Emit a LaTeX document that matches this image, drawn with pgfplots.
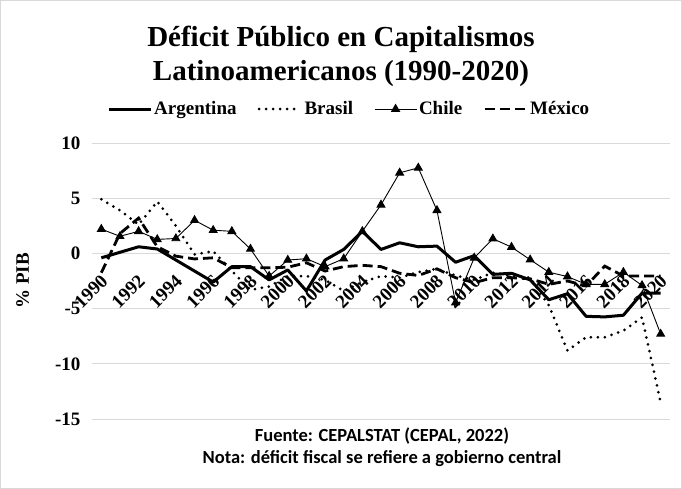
\documentclass[border=0pt]{standalone}
\usepackage{fontspec}
\setmainfont{Liberation Serif}
\newfontfamily\carlito{Carlito}
\usepackage{pgfplots}
\pgfplotsset{compat=1.18}
\usepackage{pgfplotstable}
\pgfplotstableread{
year arg bra chi mex
1990 -0.4 4.9 2.2 -1.75
1991 0.1 3.9 1.55 1.8
1992 0.6 2.6 2.0 3.2
1993 0.4 4.7 1.27 0.6
1994 -0.6 2.5 1.35 -0.25
1995 -1.6 -0.1 3.0 -0.5
1996 -2.6 0.2 2.1 -0.4
1997 -1.2 -1.6 2.0 -1.3
1998 -1.2 -3.3 0.4 -1.3
1999 -2.4 -3.0 -2.05 -1.3
2000 -1.5 -2.05 -0.6 -1.25
2001 -3.4 -2.05 -0.48 -0.85
2002 -0.6 -2.4 -1.2 -1.6
2003 0.36 -3.4 -0.48 -1.2
2004 2.0 -2.6 2.0 -1.08
2005 0.36 -2.05 4.4 -1.2
2006 0.96 -2.2 7.3 -1.8
2007 0.6 -1.7 7.75 -2.0
2008 0.66 -1.4 3.9 -1.4
2009 -0.8 -2.0 -4.46 -2.2
2010 -0.2 -2.4 -0.4 -2.65
2011 -1.9 -1.75 1.33 -2.2
2012 -1.8 -2.05 0.57 -2.2
2013 -2.4 -2.2 -0.57 -2.3
2014 -4.2 -4.7 -1.7 -2.8
2015 -3.65 -8.8 -2.1 -2.5
2016 -5.7 -7.6 -2.8 -2.95
2017 -5.75 -7.6 -2.8 -1.15
2018 -5.6 -7.0 -1.7 -2.05
2019 -3.6 -5.8 -2.9 -2.05
2020 -3.6 -13.5 -7.3 -2.05
}\data
\begin{document}
\begin{tikzpicture}
\useasboundingbox (0,0) rectangle (682pt,-489pt);
\draw[gray!30, line width=0.8pt] (0.5pt,-0.5pt) rectangle (681.5pt,-488.5pt);
\node[font=\bfseries\fontsize{29}{34}\selectfont, align=center] at (341pt,-56pt) {Déficit Público en Capitalismos\\Latinoamericanos (1990-2020)};
\begin{axis}[at={(92pt,-419pt)}, anchor=south west, scale only axis, width=578pt, height=276pt,
 xmin=1989.5, xmax=2020.5, ymin=-15, ymax=10,
 axis x line=middle, axis y line=left, axis line style={draw=none},
 hide obscured x ticks=false, hide obscured y ticks=false,
 xtick={1990,1992,1994,1996,1998,2000,2002,2004,2006,2008,2010,2012,2014,2016,2018,2020},
 xticklabels={1990,1992,1994,1996,1998,2000,2002,2004,2006,2008,2010,2012,2014,2016,2018,2020},
 ytick={-15,-10,-5,0,5,10}, yticklabels={-15,-10,-5,0,5,10},
 major tick length=0pt,
 ymajorgrids, grid style={color=gray!30, line width=0.8pt},
 tick label style={font=\bfseries\fontsize{19}{21}\selectfont},
 xticklabel style={rotate=45, anchor=north east, inner sep=1pt, yshift=-12pt, xshift=-14pt},
 yticklabel style={xshift=-8pt},
 ylabel={\% PIB},
 every axis y label/.style={at={(axis description cs:-0.12,0.5)}, rotate=90, anchor=center, font=\bfseries\fontsize{19}{21}\selectfont},
 legend columns=4,
 legend style={at={(axis description cs:0.445,1.123)}, anchor=center, draw=none, fill=none,
   font=\bfseries\fontsize{19}{21}\selectfont, /tikz/every even column/.append style={column sep=19pt}},
 legend image code/.code={\draw[mark repeat=2,mark phase=2,#1] plot coordinates {(0pt,0pt) (21pt,0pt) (42pt,0pt)};},
]
\addplot[black, line width=3pt, line join=round] table[x=year,y=arg] {\data};
\addlegendentry{Argentina}
\addplot[black, line width=3pt, dash pattern=on 0pt off 7pt, line cap=round] table[x=year,y=bra] {\data};
\addlegendentry{Brasil}
\addplot[black, line width=0.9pt, mark=triangle*, mark size=4.5pt, mark options={solid}] table[x=year,y=chi] {\data};
\addlegendentry{Chile}
\addplot[black, line width=2.8pt, dash pattern=on 10pt off 5pt] table[x=year,y=mex] {\data};
\addlegendentry{México}
\end{axis}
\node[font=\carlito\bfseries\fontsize{18.5}{22}\selectfont] at (382pt,-436pt) {Fuente: CEPALSTAT (CEPAL, 2022)};
\node[font=\carlito\bfseries\fontsize{18.5}{22}\selectfont] at (382pt,-459pt) {Nota: déficit fiscal se refiere a gobierno central};
\end{tikzpicture}
\end{document}
